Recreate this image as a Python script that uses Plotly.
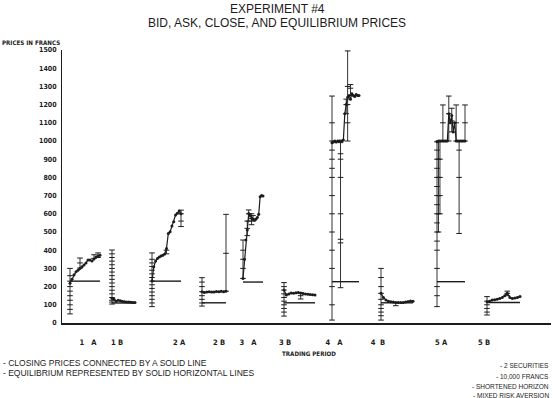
import plotly.graph_objects as go

# ---------------- data ----------------
periods = ["1\u00a0\u00a0\u00a0A", "1\u00a0B", "2\u00a0A", "2\u00a0B", "3\u00a0\u00a0\u00a0A",
           "3\u00a0B", "4\u00a0\u00a0\u00a0A", "4\u00a0\u00a0B", "5\u00a0A", "5\u00a0B"]
period_start = [8, 50, 90, 140, 181, 222, 270, 319, 375, 425]
period_width = [30, 23, 29, 24, 20, 31, 27, 32, 28, 33]
label_pos = [26, 55, 117, 157, 186, 223, 272, 316, 379, 422]
equilibrium = [230, 110, 230, 111, 225, 111, 227, 111, 227, 113]
y_ticks = list(range(0, 1501, 100))

close_1A = [218, 240, 265, 282, 290, 300, 309, 319, 330, 346, 346, 340, 352, 362, 368, 372]
close_1B = [136, 130, 120, 125, 122, 118, 117, 116, 115, 114, 113, 113]
close_2A = [231, 309, 340, 355, 362, 368, 372, 379, 410, 492, 502, 533, 557, 593, 603, 615, 600]
close_2B = [172, 168, 170, 172, 170, 171, 173, 172, 174, 172, 175]
close_3A = [245, 350, 456, 511, 602, 590, 575, 570, 566, 570, 580, 597, 694, 700, 698]
close_3B = [181, 154, 160, 165, 163, 166, 168, 165, 162, 160, 158, 156, 155, 154]
close_4A = [990, 995, 1000, 995, 1000, 1000, 1000, 1000, 1005, 1150, 1200, 1240, 1250, 1230,
            1260, 1250, 1245, 1255, 1250, 1250]
close_4B = [163, 140, 126, 120, 117, 115, 113, 112, 112, 113, 115, 118, 121, 120]
close_5A = [996, 1000, 1000, 1000, 1000, 1000, 1000, 1000, 1150, 1100, 1140, 1050, 1100, 1000,
            1000, 1000, 1000, 1000, 1000, 1000]
close_5B = [117, 120, 126, 128, 130, 135, 140, 150, 163, 140, 135, 138, 140, 145]

# bid / ask quotes: trade index -> quoted prices
quotes_1A = {0: [50, 75, 100, 125, 150, 175, 200, 230, 260, 300], 5: [302, 330, 357],
             12: [355, 375], 14: [360, 385]}
quotes_1B = {0: [104, 115, 125, 140, 160, 180, 200, 220, 240, 260, 280, 300, 320, 340, 360, 380, 401]}
quotes_2A = {0: [90, 110, 130, 150, 170, 190, 210, 230, 250, 270, 290, 310, 330, 350, 385],
             8: [380, 400], 16: [530, 560, 600, 620]}
quotes_2B = {0: [93, 110, 130, 150, 172, 200, 225, 249], 10: [175, 383, 597]}
quotes_3A = {0: [245, 300, 350, 400, 456], 3: [480, 520, 560], 4: [560, 600, 621],
             6: [540, 575, 600], 7: [560, 590]}
quotes_3B = {0: [38, 60, 80, 100, 120, 140, 160, 181, 200, 222], 7: [132, 150, 165]}
quotes_4A = {0: [16, 100, 200, 300, 400, 500, 600, 700, 800, 850, 900, 950, 1000, 1100, 1247],
             6: [194, 440, 460, 600, 800, 900, 930, 991], 10: [1150, 1200, 1230],
             11: [1000, 1100, 1200, 1300, 1495], 13: [1250, 1290, 1310]}
quotes_4B = {0: [16, 40, 60, 80, 100, 130, 163, 200, 250, 300], 6: [95, 112]}
quotes_5A = {0: [90, 150, 200, 300, 400, 450, 500, 550, 600, 650, 700, 750, 800, 850, 900, 950, 996],
             1: [500, 600, 700, 800, 900, 1000], 2: [600, 700, 800, 900, 1000],
             4: [1000, 1100, 1198], 8: [1000, 1150, 1247], 10: [1050, 1110, 1180],
             13: [1000, 1100, 1198], 15: [492, 600, 800, 950, 1000], 19: [1000, 1100, 1198]}
quotes_5B = {0: [44, 60, 80, 100, 120, 145], 8: [150, 163, 175]}

closes = [close_1A, close_1B, close_2A, close_2B, close_3A, close_3B, close_4A, close_4B, close_5A, close_5B]
quotes = [quotes_1A, quotes_1B, quotes_2A, quotes_2B, quotes_3A, quotes_3B, quotes_4A, quotes_4B, quotes_5A, quotes_5B]

INK = "#1c1c1c"

# ---------------- build traces ----------------
cx, cy = [], []
qlx, qly = [], []
qmx, qmy = [], []
ex, ey = [], []
for st, w, eq, cl, qt in zip(period_start, period_width, equilibrium, closes, quotes):
    step = w / (len(cl) - 1)
    xs = [st + i * step for i in range(len(cl))]
    cx += xs + [None]
    cy += cl + [None]
    for idx, vals in qt.items():
        x = st + idx * step
        qlx += [x, x, None]
        qly += [min(vals), max(vals), None]
        qmx += [x] * len(vals)
        qmy += vals
    ex += [st, st + w, None]
    ey += [eq, eq, None]

fig = go.Figure()
fig.add_trace(go.Scatter(x=ex, y=ey, mode="lines", line=dict(color=INK, width=1.4),
                         showlegend=False, hoverinfo="skip"))
fig.add_trace(go.Scatter(x=qlx, y=qly, mode="lines", line=dict(color=INK, width=0.9),
                         showlegend=False, hoverinfo="skip"))
fig.add_trace(go.Scatter(x=qmx, y=qmy, mode="markers",
                         marker=dict(symbol="line-ew", size=4, line=dict(width=1, color=INK)),
                         showlegend=False, hoverinfo="skip"))
fig.add_trace(go.Scatter(x=cx, y=cy, mode="lines+markers", line=dict(color=INK, width=1.2),
                         marker=dict(size=3, color=INK), connectgaps=False,
                         showlegend=False))

# ---------------- layout ----------------
W, H = 553, 398
L, R, T, B = 62, 2, 50, 75
PW, PH = W - L - R, H - T - B

def px(xp):
    return (xp - L) / PW

def py(yp):
    return (H - B - yp) / PH

narrow = "Liberation Sans Narrow, DejaVu Sans Condensed, Arial Narrow, sans-serif"
sans = "Liberation Sans, Arial, sans-serif"

fig.update_layout(
    width=W, height=H,
    margin=dict(l=L, r=R, t=T, b=B),
    paper_bgcolor="white", plot_bgcolor="white",
    xaxis=dict(range=[0, PW], showgrid=False, zeroline=False, showline=True,
               linecolor=INK, linewidth=2, ticks="", tickvals=label_pos, ticktext=periods,
               tickfont=dict(family=narrow, size=7.5, color=INK, weight="bold"),
               ticklabelstandoff=11),
    yaxis=dict(range=[0, 1500], showgrid=False, zeroline=False, showline=True,
               linecolor=INK, linewidth=1, ticks="", tickvals=y_ticks,
               tickfont=dict(family=narrow, size=7, color=INK, weight="bold"),
               ticklabelstandoff=3),
)

ann = []
def add(text, x, y, xanchor="center", size=7, family=sans, bold=False):
    ann.append(dict(text=text, x=px(x), y=py(y), xref="paper", yref="paper",
                    xanchor=xanchor, yanchor="middle", showarrow=False,
                    font=dict(family=family, size=size, color=INK,
                              weight="bold" if bold else "normal")))

add("EXPERIMENT #4", 277, 9, size=12)
add("BID, ASK, CLOSE, AND EQUILIBRIUM PRICES", 277, 23, size=12)
add("PRICES IN FRANCS", 0, 42, xanchor="left", size=6.2, family=narrow, bold=True)
add("TRADING PERIOD", 309, 353, size=6.2, family=narrow, bold=True)
add("- CLOSING PRICES CONNECTED BY A SOLID LINE", 1, 363, xanchor="left", size=8.5)
add("- EQUILIBRIUM REPRESENTED BY SOLID HORIZONTAL LINES", 1, 373, xanchor="left", size=8.5)
add("- 2 SECURITIES", 551, 366, xanchor="right", size=6.5)
add("- 10,000 FRANCS", 551, 376, xanchor="right", size=6.5)
add("- SHORTENED HORIZON", 551, 386, xanchor="right", size=6.5)
add("- MIXED RISK AVERSION", 551, 395, xanchor="right", size=6.5)
fig.update_layout(annotations=ann)

fig.write_html("out.html", config={"displayModeBar": False},
               post_script="document.body.style.margin='0';")
